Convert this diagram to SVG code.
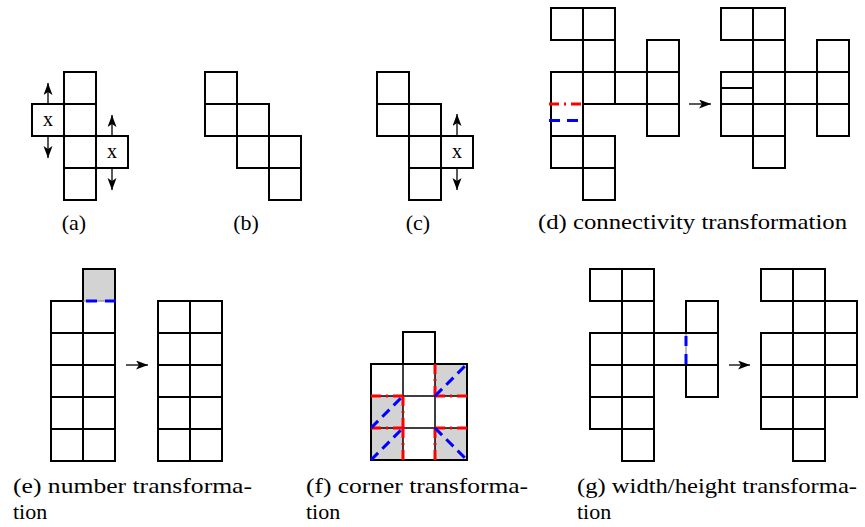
<svg xmlns="http://www.w3.org/2000/svg" width="865" height="527" viewBox="0 0 865 527">
<style>
  .c { fill: none; stroke: #000; stroke-width: 2; stroke-linejoin: miter; stroke-linecap: square; }
  .thin { fill: none; stroke: #000; stroke-width: 1.5; }
  .g { fill: #d3d3d3; stroke: none; }
  .gl { stroke: #8a8a8a; stroke-width: 1.2; fill: none; }
  .red { stroke: #ff0000; stroke-width: 3; fill: none; stroke-dasharray: 10 5 2 5 10; }
  .blue { stroke: #0000ff; stroke-width: 3; fill: none; stroke-dasharray: 11 7; }
  .ar { stroke: #000; stroke-width: 1.3; fill: none; marker-end: url(#head); }
  .lbl { font-family: "Liberation Serif", "DejaVu Serif", serif; font-size: 22px; fill: #000; }
  .x { font-family: "Liberation Serif", "DejaVu Serif", serif; font-size: 20px; fill: #000; text-anchor: middle; }
</style>
<defs>
  <marker id="head" markerUnits="userSpaceOnUse" markerWidth="14" markerHeight="10" refX="12" refY="4.5" orient="auto">
    <path d="M0,0 L12,4.5 L0,9 L3,4.5 z" fill="#000"/>
  </marker>
</defs>
<rect width="865" height="527" fill="#fff"/>

<g id="a">
  <rect class="c" x="64" y="72" width="32" height="32"/>
  <rect class="c" x="64" y="104" width="32" height="32"/>
  <rect class="c" x="64" y="136" width="32" height="32"/>
  <rect class="c" x="64" y="168" width="32" height="32"/>
  <rect class="c" x="32" y="104" width="32" height="32"/>
  <rect class="c" x="96" y="136" width="32" height="32"/>
  <text class="x" x="48" y="125.5">x</text>
  <text class="x" x="112" y="157.5">x</text>
  <text class="lbl" x="74" y="230" text-anchor="middle">(a)</text>
</g>

<g id="b">
  <rect class="c" x="205" y="72" width="32" height="32"/>
  <rect class="c" x="205" y="104" width="32" height="32"/>
  <rect class="c" x="237" y="104" width="32" height="32"/>
  <rect class="c" x="237" y="136" width="32" height="32"/>
  <rect class="c" x="269" y="136" width="32" height="32"/>
  <rect class="c" x="269" y="168" width="32" height="32"/>
  <text class="lbl" x="246" y="230" text-anchor="middle">(b)</text>
</g>

<g id="c">
  <rect class="c" x="377" y="72" width="32" height="32"/>
  <rect class="c" x="377" y="104" width="32" height="32"/>
  <rect class="c" x="409" y="104" width="32" height="32"/>
  <rect class="c" x="409" y="136" width="32" height="32"/>
  <rect class="c" x="441" y="136" width="32" height="32"/>
  <rect class="c" x="409" y="168" width="32" height="32"/>
  <text class="x" x="457" y="157.5">x</text>
  <text class="lbl" x="418" y="230" text-anchor="middle">(c)</text>
</g>

<g id="d">
  <g id="d-left">
    <rect class="c" x="551" y="8" width="32" height="32"/>
    <rect class="c" x="583" y="8" width="32" height="32"/>
    <rect class="c" x="583" y="40" width="32" height="32"/>
    <rect class="c" x="647" y="40" width="32" height="32"/>
    <rect class="c" x="583" y="72" width="32" height="32"/>
    <rect class="c" x="615" y="72" width="32" height="32"/>
    <rect class="c" x="647" y="72" width="32" height="32"/>
    <rect class="c" x="647" y="104" width="32" height="32"/>
    <rect class="c" x="551" y="136" width="32" height="32"/>
    <rect class="c" x="583" y="136" width="32" height="32"/>
    <rect class="c" x="583" y="168" width="32" height="32"/>
    <path class="c" d="M551,136 V72 H583 V136"/>
    <path class="red" d="M549,104 H583"/>
    <path class="blue" d="M549,120.5 H580"/>
  </g>
  <g id="d-right">
    <rect class="c" x="721" y="8" width="32" height="32"/>
    <rect class="c" x="753" y="8" width="32" height="32"/>
    <rect class="c" x="753" y="40" width="32" height="32"/>
    <rect class="c" x="817" y="40" width="32" height="32"/>
    <rect class="c" x="721" y="72" width="32" height="32"/>
    <rect class="c" x="753" y="72" width="32" height="32"/>
    <rect class="c" x="785" y="72" width="32" height="32"/>
    <rect class="c" x="817" y="72" width="32" height="32"/>
    <path class="c" d="M721,88 H753"/>
    <rect class="c" x="721" y="104" width="32" height="32"/>
    <rect class="c" x="753" y="104" width="32" height="32"/>
    <rect class="c" x="817" y="104" width="32" height="32"/>
    <rect class="c" x="753" y="136" width="32" height="32"/>
  </g>
  <text class="lbl" x="538" y="229" textLength="309" lengthAdjust="spacingAndGlyphs">(d) connectivity transformation</text>
</g>

<g id="e">
  <g id="e-left">
    <rect class="g" x="83" y="269" width="32" height="32"/>
    <path class="c" d="M83,301 V269 H115 V461 H51 V301 H83"/>
    <path class="c" d="M83,301 V461 M51,333 H115 M51,365 H115 M51,397 H115 M51,429 H115"/>
    <path class="gl" d="M83,301 H115"/>
    <path class="blue" d="M86,301 H116" style="stroke-dasharray:11 8"/>
  </g>
  <g id="e-right">
    <rect class="c" x="158" y="301" width="64" height="160"/>
    <path class="c" d="M190,301 V461 M158,333 H222 M158,365 H222 M158,397 H222 M158,429 H222"/>
  </g>
  <text class="lbl" x="13" y="493" textLength="239" lengthAdjust="spacingAndGlyphs">(e) number transforma-</text>
  <text class="lbl" x="13" y="519">tion</text>
</g>

<g id="f">
  <rect class="g" x="435" y="364" width="32" height="32"/>
  <rect class="g" x="371" y="396" width="32" height="32"/>
  <rect class="g" x="371" y="428" width="32" height="32"/>
  <rect class="g" x="435" y="428" width="32" height="32"/>
  <path class="thin" d="M403,364 V460 M435,364 V460 M371,396 H467 M371,428 H467"/>
  <rect class="c" x="403" y="332" width="32" height="32"/>
  <rect class="c" x="371" y="364" width="96" height="96"/>
  <path class="red" d="M435,364 V396"/>
  <path class="red" d="M435,396 H467"/>
  <path class="red" d="M371,396 H403"/>
  <path class="red" d="M403,396 V428"/>
  <path class="red" d="M403,428 V460"/>
  <path class="red" d="M371,428 H403"/>
  <path class="red" d="M435,428 H467"/>
  <path class="red" d="M435,428 V460"/>
  <path class="blue" d="M435,396 L467,364" style="stroke-dasharray:10 6"/>
  <path class="blue" d="M371,428 L403,396" style="stroke-dasharray:10 6"/>
  <path class="blue" d="M371,460 L403,428" style="stroke-dasharray:10 6"/>
  <path class="blue" d="M435,428 L467,460" style="stroke-dasharray:10 6"/>
  <text class="lbl" x="306" y="493" textLength="222" lengthAdjust="spacingAndGlyphs">(f) corner transforma-</text>
  <text class="lbl" x="306" y="519">tion</text>
</g>

<g id="g">
  <g id="g-left">
    <rect class="c" x="590" y="269" width="32" height="32"/>
    <rect class="c" x="622" y="269" width="32" height="32"/>
    <rect class="c" x="622" y="301" width="32" height="32"/>
    <rect class="c" x="686" y="301" width="32" height="32"/>
    <rect class="c" x="590" y="333" width="32" height="32"/>
    <rect class="c" x="622" y="333" width="32" height="32"/>
    <path class="c" d="M686,333 H654 V365 H686"/>
    <path class="c" d="M686,333 H718 V365 H686"/>
    <rect class="c" x="590" y="365" width="32" height="32"/>
    <rect class="c" x="622" y="365" width="32" height="32"/>
    <rect class="c" x="686" y="365" width="32" height="32"/>
    <rect class="c" x="590" y="397" width="32" height="32"/>
    <rect class="c" x="622" y="397" width="32" height="32"/>
    <rect class="c" x="622" y="429" width="32" height="32"/>
    <path class="gl" d="M686,334 V364"/>
    <path class="blue" d="M686,336 V366" style="stroke-dasharray:10 8"/>
  </g>
  <g id="g-right">
    <rect class="c" x="761" y="269" width="32" height="32"/>
    <rect class="c" x="793" y="269" width="32" height="32"/>
    <rect class="c" x="793" y="301" width="32" height="32"/>
    <rect class="c" x="825" y="301" width="32" height="32"/>
    <rect class="c" x="761" y="333" width="32" height="32"/>
    <rect class="c" x="793" y="333" width="32" height="32"/>
    <rect class="c" x="825" y="333" width="32" height="32"/>
    <rect class="c" x="761" y="365" width="32" height="32"/>
    <rect class="c" x="793" y="365" width="32" height="32"/>
    <rect class="c" x="825" y="365" width="32" height="32"/>
    <rect class="c" x="761" y="397" width="32" height="32"/>
    <rect class="c" x="793" y="397" width="32" height="32"/>
    <rect class="c" x="793" y="429" width="32" height="32"/>
  </g>
  <text class="lbl" x="577" y="493" textLength="280" lengthAdjust="spacingAndGlyphs">(g) width/height transforma-</text>
  <text class="lbl" x="577" y="519">tion</text>
</g>

<g id="connectors">
  <path class="ar" d="M48,104 V83"/>
  <path class="ar" d="M48,136 V158"/>
  <path class="ar" d="M112,136 V115"/>
  <path class="ar" d="M112,168 V190"/>
  <path class="ar" d="M457,136 V114"/>
  <path class="ar" d="M457,168 V190"/>
  <path class="ar" d="M689,104 H711"/>
  <path class="ar" d="M126,365 H148"/>
  <path class="ar" d="M729,365 H750"/>
</g>
</svg>
